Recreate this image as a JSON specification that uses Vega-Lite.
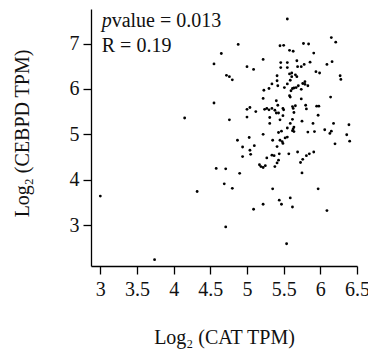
{
  "$schema": "https://vega.github.io/schema/vega-lite/v6.json",
  "autosize": {"type": "none"},
  "padding": {"left": 91, "top": 9, "right": 11, "bottom": 88},
  "width": 266,
  "height": 257,
  "config": {
    "view": {"stroke": null},
    "font": "Liberation Serif",
    "axis": {
      "grid": false,
      "domainColor": "#000",
      "domainWidth": 1.3,
      "tickColor": "#000",
      "tickWidth": 1.3,
      "tickSize": 8,
      "labelFont": "Liberation Serif",
      "labelFontSize": 20,
      "labelColor": "#111",
      "labelOverlap": false,
      "titleFont": "Liberation Serif",
      "titleFontSize": 20,
      "titleFontWeight": "normal",
      "titleColor": "#111"
    }
  },
  "encoding": {
    "x": {
      "field": "x", "type": "quantitative",
      "scale": {"domain": [2.873, 6.5], "nice": false, "zero": false},
      "axis": {
        "values": [3, 3.5, 4, 4.5, 5, 5.5, 6, 6.5],
        "format": "~g",
        "labelPadding": 5,
        "labelFlush": false,
        "title": "Log₂ (CAT TPM)",
        "titleX": 133,
        "titleY": 77,
        "titleBaseline": "alphabetic"
      }
    },
    "y": {
      "field": "y", "type": "quantitative",
      "scale": {"domain": [2.1, 7.76], "nice": false, "zero": false},
      "axis": {
        "values": [3, 4, 5, 6, 7],
        "format": "~g",
        "labelPadding": 4,
        "title": "Log₂ (CEBPD TPM)",
        "titleX": -69,
        "titleY": 124,
        "titleBaseline": "middle"
      }
    }
  },
  "layer": [
    {
      "data": {"values": [
        {"x": 5.55, "y": 7.54}, {"x": 3.0, "y": 3.64}, {"x": 3.74, "y": 2.24}, {"x": 4.15, "y": 5.36},
        {"x": 4.32, "y": 3.74}, {"x": 4.71, "y": 2.96}, {"x": 5.54, "y": 2.59}, {"x": 4.55, "y": 6.55},
        {"x": 4.65, "y": 6.78}, {"x": 4.88, "y": 6.98}, {"x": 4.72, "y": 6.30}, {"x": 4.76, "y": 6.27},
        {"x": 4.80, "y": 6.20}, {"x": 4.55, "y": 5.69}, {"x": 4.76, "y": 5.32}, {"x": 4.58, "y": 4.25},
        {"x": 4.71, "y": 4.24}, {"x": 4.69, "y": 3.91}, {"x": 4.80, "y": 3.81}, {"x": 4.90, "y": 4.14},
        {"x": 5.00, "y": 6.49}, {"x": 5.09, "y": 6.43}, {"x": 5.22, "y": 6.65}, {"x": 4.87, "y": 4.87},
        {"x": 4.94, "y": 4.72}, {"x": 4.94, "y": 4.51}, {"x": 5.00, "y": 5.55}, {"x": 5.04, "y": 5.59},
        {"x": 5.00, "y": 5.38}, {"x": 5.03, "y": 4.93}, {"x": 5.04, "y": 4.65}, {"x": 5.05, "y": 4.56},
        {"x": 5.10, "y": 4.75}, {"x": 5.12, "y": 5.50}, {"x": 5.09, "y": 3.35}, {"x": 5.22, "y": 3.46},
        {"x": 5.35, "y": 3.80}, {"x": 5.44, "y": 3.55}, {"x": 5.47, "y": 3.46}, {"x": 5.59, "y": 3.60},
        {"x": 5.62, "y": 3.40}, {"x": 5.97, "y": 3.80}, {"x": 6.09, "y": 3.32}, {"x": 5.22, "y": 5.00},
        {"x": 5.17, "y": 4.33}, {"x": 5.19, "y": 4.29}, {"x": 5.22, "y": 4.27}, {"x": 5.25, "y": 4.31},
        {"x": 5.27, "y": 4.48}, {"x": 5.38, "y": 4.29}, {"x": 5.41, "y": 4.37}, {"x": 5.43, "y": 4.43},
        {"x": 5.34, "y": 4.54}, {"x": 5.37, "y": 4.53}, {"x": 5.44, "y": 4.57}, {"x": 5.57, "y": 4.57},
        {"x": 5.73, "y": 4.38}, {"x": 5.75, "y": 4.15}, {"x": 5.76, "y": 4.45}, {"x": 5.81, "y": 4.53},
        {"x": 5.85, "y": 4.57}, {"x": 5.91, "y": 4.61}, {"x": 5.69, "y": 4.61}, {"x": 5.23, "y": 5.97},
        {"x": 5.22, "y": 5.79}, {"x": 5.30, "y": 6.01}, {"x": 5.34, "y": 6.11}, {"x": 5.41, "y": 6.18},
        {"x": 5.40, "y": 5.74}, {"x": 5.42, "y": 5.64}, {"x": 5.24, "y": 5.55}, {"x": 5.27, "y": 5.57},
        {"x": 5.30, "y": 5.54}, {"x": 5.34, "y": 5.57}, {"x": 5.38, "y": 5.53}, {"x": 5.40, "y": 5.47},
        {"x": 5.43, "y": 5.47}, {"x": 5.49, "y": 5.57}, {"x": 5.50, "y": 5.54}, {"x": 5.31, "y": 5.37},
        {"x": 5.31, "y": 5.24}, {"x": 5.45, "y": 5.32}, {"x": 5.49, "y": 5.41}, {"x": 5.43, "y": 5.04},
        {"x": 5.47, "y": 5.07}, {"x": 5.35, "y": 4.87}, {"x": 5.41, "y": 4.73}, {"x": 5.45, "y": 4.87},
        {"x": 5.48, "y": 4.84}, {"x": 5.49, "y": 4.80}, {"x": 5.52, "y": 4.92}, {"x": 5.55, "y": 4.94},
        {"x": 5.55, "y": 5.14}, {"x": 5.59, "y": 5.24}, {"x": 5.62, "y": 5.33}, {"x": 5.63, "y": 5.12},
        {"x": 5.64, "y": 5.16}, {"x": 5.62, "y": 5.08}, {"x": 5.64, "y": 5.06}, {"x": 5.75, "y": 5.29},
        {"x": 5.83, "y": 5.05}, {"x": 5.92, "y": 5.06}, {"x": 5.90, "y": 5.24}, {"x": 5.97, "y": 5.42},
        {"x": 5.98, "y": 5.62}, {"x": 5.95, "y": 5.62}, {"x": 5.81, "y": 5.56}, {"x": 5.80, "y": 5.64},
        {"x": 5.64, "y": 5.48}, {"x": 5.66, "y": 5.63}, {"x": 5.62, "y": 5.61}, {"x": 5.63, "y": 5.57},
        {"x": 5.74, "y": 5.78}, {"x": 5.58, "y": 5.85}, {"x": 5.59, "y": 5.82}, {"x": 5.51, "y": 6.03},
        {"x": 5.60, "y": 5.96}, {"x": 5.62, "y": 6.01}, {"x": 5.64, "y": 6.02}, {"x": 5.67, "y": 6.03},
        {"x": 5.70, "y": 6.07}, {"x": 5.74, "y": 5.99}, {"x": 5.76, "y": 6.12}, {"x": 5.79, "y": 6.16},
        {"x": 5.79, "y": 6.10}, {"x": 5.83, "y": 6.07}, {"x": 5.59, "y": 6.19}, {"x": 5.61, "y": 6.27},
        {"x": 5.58, "y": 6.33}, {"x": 5.61, "y": 6.35}, {"x": 5.66, "y": 6.31}, {"x": 5.68, "y": 6.27},
        {"x": 5.55, "y": 6.11}, {"x": 5.94, "y": 6.38}, {"x": 5.99, "y": 6.35}, {"x": 6.09, "y": 6.54},
        {"x": 6.16, "y": 6.60}, {"x": 6.27, "y": 6.29}, {"x": 6.28, "y": 6.21}, {"x": 6.14, "y": 5.82},
        {"x": 6.18, "y": 5.24}, {"x": 6.15, "y": 5.07}, {"x": 6.13, "y": 5.02}, {"x": 6.06, "y": 5.10},
        {"x": 6.20, "y": 4.79}, {"x": 6.39, "y": 5.21}, {"x": 6.36, "y": 4.99}, {"x": 6.40, "y": 4.85},
        {"x": 5.46, "y": 6.58}, {"x": 5.46, "y": 6.47}, {"x": 5.55, "y": 6.58}, {"x": 5.55, "y": 6.47},
        {"x": 5.68, "y": 6.62}, {"x": 5.69, "y": 6.49}, {"x": 5.74, "y": 6.49}, {"x": 5.78, "y": 6.54},
        {"x": 5.86, "y": 6.59}, {"x": 5.91, "y": 6.79}, {"x": 5.45, "y": 6.95}, {"x": 5.50, "y": 6.96},
        {"x": 5.58, "y": 6.85}, {"x": 5.63, "y": 6.83}, {"x": 5.77, "y": 7.00}, {"x": 5.84, "y": 6.99},
        {"x": 6.15, "y": 7.13}, {"x": 6.21, "y": 7.03}, {"x": 5.41, "y": 6.29}, {"x": 5.42, "y": 6.07}
      ]},
      "mark": {"type": "circle", "size": 8, "color": "#000", "opacity": 1}
    },
    {
      "data": {"values": [
        {"x": 3.155, "y": 7.36, "t": "value = 0.013"},
        {"x": 3.02, "y": 6.81, "t": "R = 0.19"}
      ]},
      "mark": {"type": "text", "align": "left", "baseline": "alphabetic", "font": "Liberation Serif", "fontSize": 20, "color": "#111"},
      "encoding": {"text": {"field": "t"}}
    },
    {
      "data": {"values": [
        {"x": 3.02, "y": 7.36, "t": "p"}
      ]},
      "mark": {"type": "text", "align": "left", "baseline": "alphabetic", "font": "Liberation Serif", "fontSize": 20, "fontStyle": "italic", "color": "#111"},
      "encoding": {"text": {"field": "t"}}
    }
  ]
}
